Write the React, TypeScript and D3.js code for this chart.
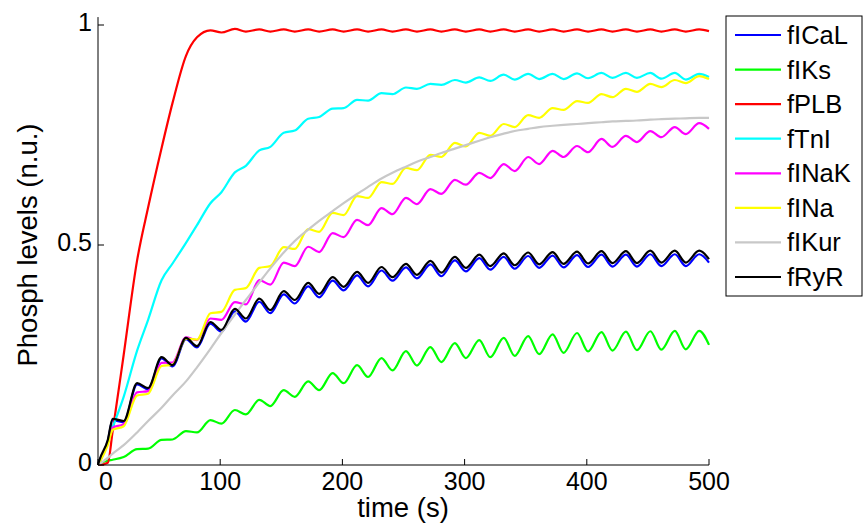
import React from "react";
import * as d3 from "d3";

const time = [0, 1, 8, 12, 21, 32, 41, 52, 61, 72, 81, 92, 101, 112, 121, 132, 141, 152, 161, 172, 181, 192, 201, 212, 221, 232, 241, 252, 261, 272, 281, 292, 301, 312, 321, 332, 341, 352, 361, 372, 381, 392, 401, 412, 421, 432, 441, 452, 461, 472, 481, 492, 500];

const fICaL = [0, 0.008, 0.054, 0.102, 0.097, 0.183, 0.172, 0.242, 0.224, 0.286, 0.267, 0.321, 0.303, 0.349, 0.326, 0.371, 0.345, 0.388, 0.367, 0.406, 0.381, 0.419, 0.397, 0.431, 0.406, 0.442, 0.419, 0.449, 0.424, 0.456, 0.429, 0.465, 0.44, 0.47, 0.444, 0.473, 0.446, 0.475, 0.448, 0.476, 0.449, 0.477, 0.45, 0.478, 0.451, 0.478, 0.451, 0.479, 0.452, 0.479, 0.452, 0.479, 0.46];
const fIKs = [0, 0.003, 0.01, 0.012, 0.018, 0.036, 0.037, 0.057, 0.058, 0.077, 0.074, 0.102, 0.094, 0.125, 0.115, 0.148, 0.134, 0.17, 0.155, 0.19, 0.17, 0.209, 0.186, 0.227, 0.2, 0.243, 0.215, 0.259, 0.226, 0.268, 0.234, 0.277, 0.243, 0.284, 0.245, 0.289, 0.248, 0.293, 0.252, 0.297, 0.255, 0.3, 0.258, 0.302, 0.26, 0.303, 0.261, 0.304, 0.262, 0.305, 0.263, 0.305, 0.273];
const fPLB = [0, 0, 0.005, 0.077, 0.25, 0.465, 0.585, 0.72, 0.823, 0.93, 0.972, 0.988, 0.983, 0.991, 0.985, 0.99, 0.985, 0.99, 0.985, 0.99, 0.985, 0.99, 0.985, 0.99, 0.985, 0.99, 0.985, 0.99, 0.985, 0.99, 0.985, 0.99, 0.985, 0.99, 0.985, 0.99, 0.985, 0.99, 0.985, 0.99, 0.985, 0.99, 0.985, 0.99, 0.985, 0.99, 0.985, 0.99, 0.985, 0.99, 0.985, 0.99, 0.986];
const fTnI = [0, 0.005, 0.052, 0.085, 0.155, 0.26, 0.33, 0.42, 0.458, 0.505, 0.545, 0.595, 0.62, 0.665, 0.68, 0.715, 0.723, 0.755, 0.76, 0.787, 0.791, 0.81, 0.811, 0.83, 0.828, 0.845, 0.843, 0.858, 0.855, 0.866, 0.864, 0.875, 0.869, 0.881, 0.873, 0.887, 0.876, 0.889, 0.877, 0.889, 0.877, 0.89, 0.879, 0.891, 0.88, 0.891, 0.88, 0.891, 0.878, 0.891, 0.876, 0.889, 0.882];
const fINaK = [0, 0.006, 0.05, 0.085, 0.093, 0.165, 0.168, 0.232, 0.233, 0.29, 0.284, 0.333, 0.33, 0.37, 0.365, 0.42, 0.41, 0.46, 0.452, 0.496, 0.484, 0.527, 0.518, 0.557, 0.545, 0.584, 0.57, 0.607, 0.593, 0.627, 0.616, 0.648, 0.637, 0.664, 0.652, 0.684, 0.668, 0.7, 0.684, 0.714, 0.7, 0.725, 0.711, 0.741, 0.723, 0.748, 0.734, 0.759, 0.745, 0.768, 0.752, 0.777, 0.764];
const fINa = [0, 0.005, 0.045, 0.08, 0.088, 0.158, 0.162, 0.225, 0.228, 0.287, 0.285, 0.345, 0.348, 0.398, 0.402, 0.448, 0.452, 0.495, 0.491, 0.536, 0.53, 0.573, 0.568, 0.611, 0.607, 0.643, 0.639, 0.675, 0.67, 0.705, 0.7, 0.732, 0.724, 0.755, 0.748, 0.775, 0.768, 0.795, 0.789, 0.811, 0.807, 0.827, 0.823, 0.843, 0.836, 0.855, 0.848, 0.866, 0.859, 0.875, 0.868, 0.884, 0.877];
const fIKur = [0, 0.002, 0.016, 0.026, 0.045, 0.074, 0.1, 0.13, 0.158, 0.19, 0.222, 0.264, 0.3, 0.342, 0.375, 0.415, 0.447, 0.483, 0.509, 0.535, 0.555, 0.577, 0.595, 0.616, 0.632, 0.651, 0.664, 0.678, 0.689, 0.7, 0.709, 0.719, 0.727, 0.737, 0.745, 0.753, 0.759, 0.764, 0.768, 0.771, 0.773, 0.775, 0.777, 0.779, 0.781, 0.782, 0.783, 0.785, 0.786, 0.787, 0.788, 0.789, 0.789];
const fRyR = [0, 0.01, 0.057, 0.105, 0.1, 0.186, 0.175, 0.245, 0.227, 0.289, 0.27, 0.325, 0.307, 0.355, 0.333, 0.378, 0.352, 0.395, 0.375, 0.414, 0.389, 0.427, 0.405, 0.439, 0.414, 0.45, 0.427, 0.457, 0.432, 0.464, 0.437, 0.473, 0.448, 0.478, 0.452, 0.481, 0.454, 0.483, 0.456, 0.484, 0.457, 0.485, 0.458, 0.486, 0.459, 0.486, 0.459, 0.487, 0.46, 0.487, 0.46, 0.487, 0.468];

const seriesNames = ["fICaL", "fIKs", "fPLB", "fTnI", "fINaK", "fINa", "fIKur", "fRyR"];
const seriesValues = [fICaL, fIKs, fPLB, fTnI, fINaK, fINa, fIKur, fRyR];
const seriesColors = ["#0000ff", "#00ff00", "#ff0000", "#00ffff", "#ff00ff", "#ffff00", "#c8c8c8", "#000000"];

const xTicks = [0, 100, 200, 300, 400, 500];
const yTicks = [0, 0.5, 1];
const yTickLabels = ["0", "0.5", "1"];

const FONT = "'Liberation Sans', Arial, Helvetica, sans-serif";

export default function App() {
  const W = 863, H = 526;
  const x = d3.scaleLinear().domain([0, 500]).range([98, 709]);
  const y = d3.scaleLinear().domain([0, 1]).range([465, 25]);
  const line = d3
    .line<number>()
    .x((_, i) => x(time[i]))
    .y((d) => y(d))
    .curve(d3.curveMonotoneX);

  const legX = 726, legY = 16, legW = 136, legH = 280;
  const rowH = 34.57;

  return (
    <svg width={W} height={H} style={{ position: "absolute", left: 0, top: 0, background: "#fff" }} fontFamily={FONT}>
      <rect x={0} y={0} width={W} height={H} fill="#fff" />
      {seriesValues.map((vals, k) => (
        <path key={seriesNames[k]} d={line(vals) || ""} fill="none" stroke={seriesColors[k]} strokeWidth={2.2} strokeLinejoin="round" />
      ))}
      {/* axes */}
      <line x1={98} x2={98} y1={y(1.018)} y2={465} stroke="#000" strokeWidth={1} />
      <line x1={98} x2={709} y1={465} y2={465} stroke="#000" strokeWidth={1} />
      {xTicks.map((t, i) => (
        <g key={"xt" + t}>
          <line x1={x(t)} x2={x(t)} y1={465} y2={459} stroke="#000" strokeWidth={1} />
          <text x={x(t) + (i === 0 ? 8 : 0)} y={490} fontSize={25} textAnchor="middle" fill="#000">
            {t}
          </text>
        </g>
      ))}
      {yTicks.map((v, i) => (
        <g key={"yt" + v}>
          <line x1={98} x2={104} y1={y(v)} y2={y(v)} stroke="#000" strokeWidth={1} />
          <text x={92} y={y(v) + 6} fontSize={25} textAnchor="end" fill="#000">
            {yTickLabels[i]}
          </text>
        </g>
      ))}
      <text x={403} y={517} fontSize={27.5} textAnchor="middle" fill="#000">
        time (s)
      </text>
      <text transform={`translate(37,${y(0.5)}) rotate(-90)`} fontSize={27.5} textAnchor="middle" fill="#000">
        Phosph levels (n.u.)
      </text>
      {/* legend */}
      <rect x={legX} y={legY} width={legW} height={legH} fill="#fff" stroke="#000" strokeWidth={1} />
      {seriesNames.map((name, k) => {
        const cy = 35 + rowH * k;
        return (
          <g key={"lg" + name}>
            <line x1={735} x2={781} y1={cy} y2={cy} stroke={seriesColors[k]} strokeWidth={2.2} />
            <text x={787} y={cy + 9} fontSize={25.5} fill="#000">
              {name}
            </text>
          </g>
        );
      })}
    </svg>
  );
}
